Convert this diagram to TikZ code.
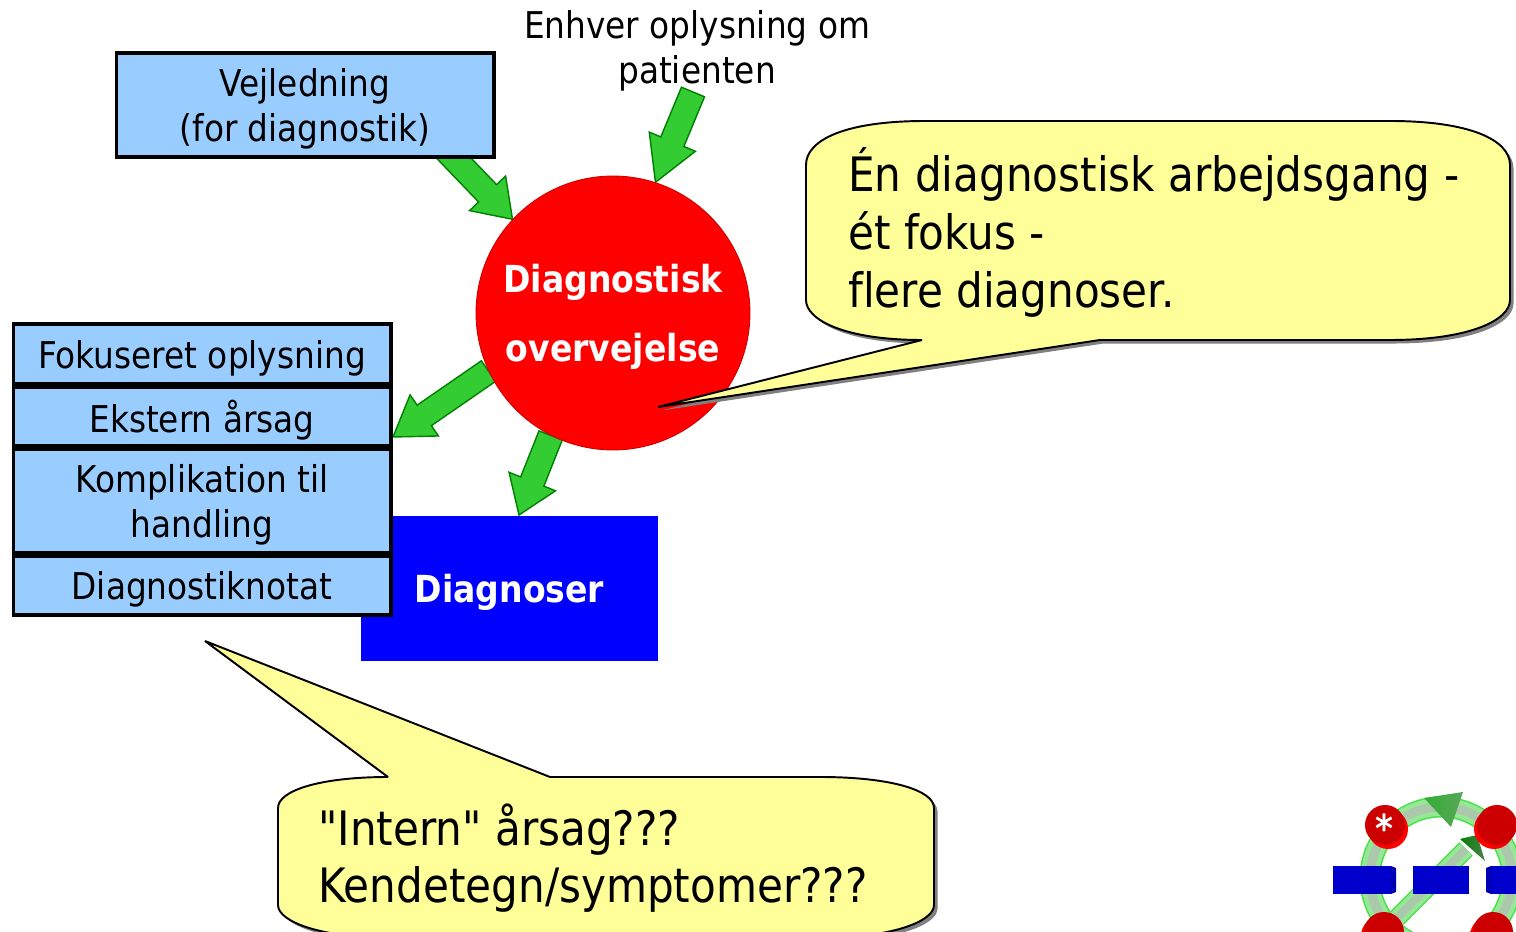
\documentclass[tikz,border=0pt]{standalone}
\usepackage{fontspec}
\setmainfont{DejaVu Sans}[FakeStretch=0.888,Ligatures={TeXOff,NoCommon}]
\usetikzlibrary{backgrounds,calc,positioning}
\definecolor{boxblue}{RGB}{153,204,255}
\definecolor{noteyellow}{RGB}{255,255,153}
\definecolor{arrowgreen}{RGB}{51,204,51}
\definecolor{arrowedge}{RGB}{0,128,0}
\definecolor{logoblue}{RGB}{0,0,204}
\definecolor{logored}{RGB}{204,0,0}
\definecolor{ringrim}{RGB}{70,225,70}
\definecolor{ringlight}{RGB}{150,232,150}
\definecolor{ringcore}{RGB}{172,200,172}
\newcommand{\blockarrow}[3][0.72cm]{%
\coordinate (headbase) at ($(#3)!#1!(#2)$);
\draw[greenarrow] ($(#2)!0.25cm!90:(#3)$) -- ($(headbase)!0.25cm!-90:(#2)$) -- ($(headbase)!0.5cm!-90:(#2)$) -- (#3) -- ($(headbase)!0.5cm!90:(#2)$) -- ($(headbase)!0.25cm!90:(#2)$) -- ($(#2)!0.25cm!-90:(#3)$) -- cycle;
}
\tikzset{
  infobox/.style={draw=black,line width=1.75pt,fill=boxblue,inner sep=0pt,align=center,minimum width=7.56cm,text depth=-2.8pt,font=\fontsize{21}{25.5}\selectfont},
  greenarrow/.style={draw=arrowedge,line width=0.8pt,fill=arrowgreen},
  notetext/.style={inner sep=0pt,align=left,anchor=north west,font=\fontsize{27}{33}\selectfont},
  noteshape/.style={draw=black,line width=1.1pt,miter limit=3,fill=noteyellow,preaction={fill=gray,transform canvas={xshift=2pt,yshift=-2pt}}},
  disc/.style={fill=logored},
  discunder/.style={fill=red},
}
\begin{document}
\begin{tikzpicture}[x=0.02cm,y=-0.02cm]
\useasboundingbox (0,0) rectangle (1516,932);
\clip (0,0) rectangle (1516,932);
\node[infobox,minimum height=2.08cm] (vejledning) at (305,105) {Vejledning\\(for diagnostik)};
\node[inner sep=0pt,align=center,font=\fontsize{21}{25.5}\selectfont] (oplysning) at (697,50.5) {Enhver oplysning om\\patienten};
\node[circle,fill=red,draw=logored,line width=0.5pt,minimum size=5.48cm,inner sep=0pt,align=center,text=white,text depth=-3.2pt,font=\bfseries\fontsize{21.2}{39}\selectfont] (diagnostisk) at (613,313) {Diagnostisk\\overvejelse};
\node[fill=blue,minimum width=5.94cm,minimum height=2.9cm,inner sep=0pt,text=white,text depth=-3.4pt,font=\bfseries\fontsize{21.2}{25.5}\selectfont] (diagnoser) at (509.5,588.5) {Diagnoser};
\node[infobox,minimum height=1.2cm] (fokuseret) at (202,354) {Fokuseret oplysning};
\node[infobox,minimum height=1.18cm] (ekstern) at (202,416.5) {Ekstern årsag};
\node[infobox,minimum height=2.08cm] (komplikation) at (202,501) {Komplikation til\\handling};
\node[infobox,minimum height=1.18cm] (notat) at (202,585.5) {Diagnostiknotat};
\coordinate (tailA) at (446,150);
\coordinate (tailB) at (693,92);
\coordinate (tipC) at (393,437);
\coordinate (tipD) at (519,515);
\begin{scope}[on background layer]
\blockarrow{tailA}{diagnostisk.137}
\blockarrow[0.88cm]{tailB}{diagnostisk.72.6}
\blockarrow[0.76cm]{diagnostisk.205}{tipC}
\blockarrow{diagnostisk.243}{tipD}
\end{scope}
\draw[noteshape] (922,340) -- (658,407) -- (1100,340) -- (1390,340) .. controls (1470,340) and (1510,320) .. (1510,300) -- (1510,165) .. controls (1510,140) and (1470,121) .. (1390,121) -- (925,121) .. controls (845,121) and (806,140) .. (806,165) -- (806,300) .. controls (806,320) and (845,340) .. (922,340) -- cycle;
\node[notetext] (arbejdsgang) at (848,147) {Én diagnostisk arbejdsgang -\\ét fokus -\\flere diagnoser.};
\draw[noteshape] (388,777) -- (205,641) -- (550,777) -- (820,777) .. controls (890,777) and (934,790) .. (934,808) -- (934,905) .. controls (934,922) and (890,938) .. (820,938) -- (392,938) .. controls (322,938) and (278,922) .. (278,905) -- (278,808) .. controls (278,790) and (322,777) .. (388,777) -- cycle;
\node[notetext] (intern) at (318,803) {"Intern" årsag???\\Kendetegn/symptomer???};
\foreach \lw/\lc in {0.42cm/ringrim,0.36cm/ringlight,0.18cm/ringcore} {
  \draw[line width=\lw,\lc] (1441,878) circle (71);
}
\foreach \lw/\lc in {0.38cm/ringrim,0.32cm/ringlight,0.16cm/ringcore} {
  \draw[line width=\lw,\lc] (1397,918) -- (1466,849);
}
\shade[left color=green!60!black!80,right color=green!30!gray] (1424,798) -- (1463,792) -- (1451,827) -- cycle;
\shade[left color=green!50!black,right color=green!30!black!70] (1460,839) -- (1477,835) -- (1485,861) -- cycle;
\foreach \cx/\cy/\ux in {1385/825/3,1497/825/-3,1384/932/-3,1493/932/-3} {
  \fill[discunder] (\cx+\ux,\cy+4) circle (20);
  \fill[disc] (\cx,\cy) circle (20);
}
\node[inner sep=0pt,text=white,font=\bfseries\fontsize{22}{22}\selectfont] (asterisk) at (1384,828) {*};
\foreach \bx/\bw in {1333/58,1413/56,1491/30} {
  \fill[logoblue] (\bx,866) rectangle ++(\bw,28);
}
\fill[blue!70!black] (1391,866) -- (1396,868) -- (1396,892) -- (1391,894) -- cycle;
\fill[blue!70!black] (1491,866) -- (1486,868) -- (1486,892) -- (1491,894) -- cycle;
\end{tikzpicture}
\end{document}
